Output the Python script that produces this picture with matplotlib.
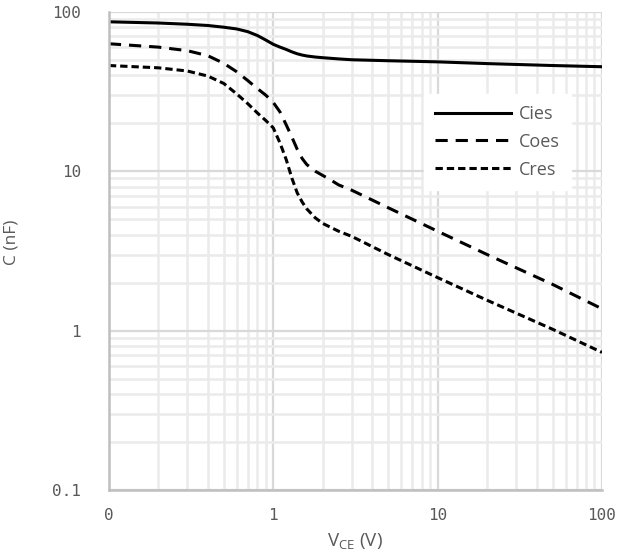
import numpy as np
import matplotlib
matplotlib.use("Agg")
import matplotlib.pyplot as plt
from matplotlib.ticker import FixedLocator, FixedFormatter, LogLocator, NullFormatter

# capacitance vs V_CE
vce_cies = [0.1, 0.2, 0.3, 0.4, 0.5, 0.6, 0.7, 0.8, 0.9, 1.0, 1.1, 1.2, 1.3, 1.4, 1.5,
            1.6, 1.8, 2.0, 2.5, 3.0, 5.0, 10, 20, 50, 100]
cies = [86.5, 85, 83.5, 82, 80, 78, 75, 71, 66.5, 62.5, 60, 58, 56, 54.5, 53.5,
        52.8, 52, 51.5, 50.6, 50, 49.3, 48.5, 47.3, 46, 45.2]

vce_coes = [0.1, 0.2, 0.3, 0.4, 0.5, 0.6, 0.7, 0.8, 0.9, 1.0, 1.1, 1.2, 1.3, 1.4, 1.5,
            1.6, 1.8, 2.0, 2.2, 2.5, 3.0, 5.0, 10, 20, 50, 100]
coes = [63, 60, 57, 53, 47.5, 42, 37, 33, 30, 27, 23.5, 19.5, 16.3, 13.7, 12.0,
        11.0, 10.0, 9.4, 8.9, 8.2, 7.6, 5.9, 4.2, 3.0, 1.95, 1.37]

vce_cres = [0.1, 0.2, 0.3, 0.4, 0.5, 0.6, 0.7, 0.8, 0.9, 1.0, 1.1, 1.2, 1.3, 1.4, 1.5,
            1.6, 1.8, 2.0, 2.5, 3.0, 5.0, 10, 20, 50, 100]
cres = [46, 44.5, 42.5, 39.5, 35.5, 30.5, 26.5, 23.2, 20.8, 18.7, 15, 11.8, 9.0, 7.3, 6.4,
        5.8, 5.1, 4.7, 4.2, 3.9, 3.0, 2.15, 1.55, 1.02, 0.73]

x_ticks = [0.1, 1, 10, 100]
x_labels = ["0", "1", "10", "100"]
y_ticks = [0.1, 1, 10, 100]
y_labels = ["0.1", "1", "10", "100"]

GRAY = "#595959"

fig = plt.figure(figsize=(6.33, 5.6), dpi=100)
ax = fig.add_axes([0.172, 0.125, 0.779, 0.854])

lw = 2.2
ax.plot(vce_cies, cies, color="black", lw=lw, solid_joinstyle="round", label="Cies")
ax.plot(vce_coes, coes, color="black", lw=lw, dashes=(4, 2.6), label="Coes")
ax.plot(vce_cres, cres, color="black", lw=lw, dashes=(2.4, 1.3), label="Cres")

ax.set_xscale("log")
ax.set_yscale("log")
ax.set_xlim(0.1, 100)
ax.set_ylim(0.1, 100)

ax.xaxis.set_major_locator(FixedLocator(x_ticks))
ax.xaxis.set_major_formatter(FixedFormatter(x_labels))
ax.yaxis.set_major_locator(FixedLocator(y_ticks))
ax.yaxis.set_major_formatter(FixedFormatter(y_labels))
ax.xaxis.set_minor_locator(LogLocator(base=10, subs=np.arange(2, 10)))
ax.yaxis.set_minor_locator(LogLocator(base=10, subs=np.arange(2, 10)))
ax.xaxis.set_minor_formatter(NullFormatter())
ax.yaxis.set_minor_formatter(NullFormatter())

ax.grid(which="minor", color="#ebebeb", lw=1.8, zorder=0)
ax.grid(which="major", color="#d9d9d9", lw=1.6, zorder=0)
ax.set_axisbelow(True)

ax.tick_params(which="both", length=0)
ax.tick_params(axis="x", pad=13)
ax.tick_params(axis="y", pad=20)
for lab in ax.get_xticklabels() + ax.get_yticklabels():
    lab.set_fontfamily("DejaVu Sans Mono")
    lab.set_fontsize(11.5)
    lab.set_color(GRAY)

for side in ["top", "right"]:
    ax.spines[side].set_visible(False)
for side in ["left", "bottom"]:
    ax.spines[side].set_color("#bfbfbf")
    ax.spines[side].set_linewidth(1.8)

ax.set_xlabel(r"V$_{\mathregular{CE}}$ (V)", fontsize=13.5, color=GRAY,
              family="Open Sans", labelpad=6)
ax.set_ylabel("C (nF)", fontsize=12.5, color=GRAY, family="Open Sans")
ax.yaxis.set_label_coords(-0.182, 0.517)

leg = ax.legend(loc="upper left", bbox_to_anchor=(0.64, 0.828), frameon=True,
                fancybox=False, framealpha=1, edgecolor="white", handlelength=4.2,
                handletextpad=0.45, labelspacing=0.55, borderpad=0.6,
                borderaxespad=0, prop={"family": "Open Sans", "size": 13})
for t in leg.get_texts():
    t.set_color(GRAY)

fig.savefig("out.png", dpi=100)
